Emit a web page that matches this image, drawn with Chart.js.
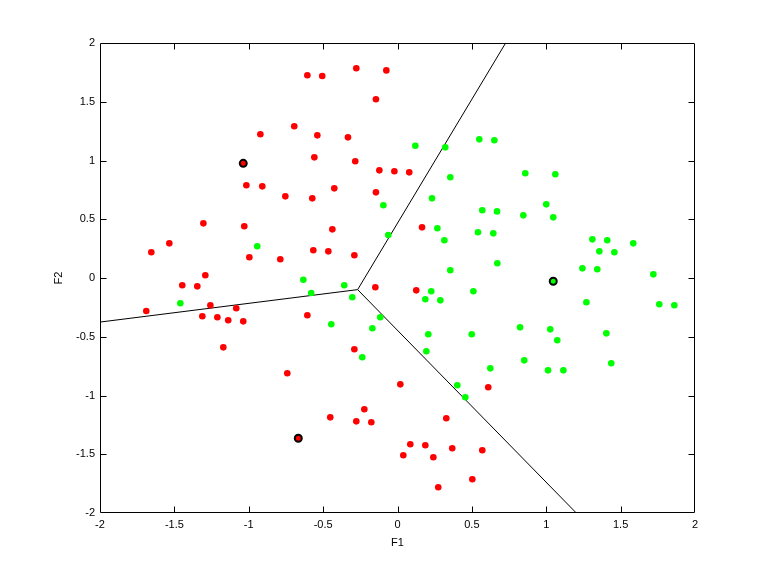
<!DOCTYPE html>
<html>
<head>
<meta charset="utf-8">
<script src="https://cdn.jsdelivr.net/npm/chart.js@4/dist/chart.umd.min.js"></script>
<style>
  html, body { margin: 0; padding: 0; background: #fff; }
  #wrap { width: 768px; height: 576px; }
</style>
</head>
<body>
<div id="wrap"><canvas id="chart" width="768" height="576"></canvas></div>
<script>
// Class 1 (red) points, F1 / F2
const redX = [-0.694, -0.922, -1.016, -0.909, -0.754, -1.305, -1.030, -1.534, -1.655, -0.996,
  -0.788, -1.292, -0.606, -0.506, -0.277, -0.075, -0.145, -0.539, -0.333, -0.559,
  -0.284, -0.122, -0.021, 0.079, -0.425, -0.573, -0.145, -0.438, 0.165, -0.566,
  -0.465, -0.290, -1.447, -1.346, -1.689, -1.258, -1.084, -1.312, -1.211, -1.138,
  -1.037, -1.171, -0.741, -0.149, 0.126, -0.606, -0.290, 0.019, 0.610, -0.452,
  -0.223, -0.277, -0.176, 0.328, 0.086, 0.187, 0.368, 0.570, 0.039, 0.241,
  0.503, 0.274];
const redY = [1.291, 1.223, 0.789, 0.780, 0.695, 0.465, 0.440, 0.295, 0.219, 0.176,
  0.159, 0.023, 1.725, 1.719, 1.785, 1.767, 1.521, 1.214, 1.197, 1.027,
  0.993, 0.916, 0.908, 0.899, 0.763, 0.678, 0.729, 0.414, 0.431, 0.236,
  0.227, 0.193, -0.062, -0.071, -0.281, -0.232, -0.258, -0.326, -0.334, -0.360,
  -0.369, -0.590, -0.811, -0.079, -0.105, -0.317, -0.607, -0.905, -0.930, -1.186,
  -1.117, -1.220, -1.228, -1.194, -1.415, -1.424, -1.449, -1.466, -1.509, -1.526,
  -1.713, -1.781];

// Class 2 (green) points
const greenX = [-0.943, 0.120, 0.321, 0.550, 0.651, 0.355, 0.232, -0.095, 0.570, 0.669,
  0.268, 0.315, 0.541, 0.644, -0.062, 0.671, 0.355, -0.633, 0.859, 1.061,
  1.000, 0.846, 1.047, 1.310, 1.410, 1.585, 1.357, 1.458, 1.243, 1.343,
  1.720, 1.270, 1.760, 1.861, 0.824, 1.027, 1.074, 1.404, 0.852, 1.437,
  1.012, 1.115, -1.460, -0.358, -0.580, -0.304, 0.227, 0.510, 0.187, 0.288,
  -0.445, -0.116, -0.169, 0.207, 0.499, 0.194, -0.237, 0.624, 0.402, 0.456];
const greenY = [0.270, 1.126, 1.112, 1.180, 1.172, 0.857, 0.678, 0.619, 0.576, 0.567,
  0.423, 0.321, 0.389, 0.380, 0.366, 0.125, 0.066, -0.015, 0.891, 0.883,
  0.627, 0.533, 0.516, 0.329, 0.321, 0.295, 0.227, 0.219, 0.082, 0.074,
  0.031, -0.207, -0.224, -0.232, -0.420, -0.437, -0.530, -0.471, -0.701, -0.726,
  -0.786, -0.786, -0.215, -0.062, -0.128, -0.164, -0.113, -0.113, -0.181, -0.190,
  -0.394, -0.334, -0.428, -0.479, -0.479, -0.624, -0.675, -0.769, -0.913, -1.015];

// cluster centres
const redCenterX = [-1.037, -0.667];
const redCenterY = [0.976, -1.364];
const greenCenterX = [1.047];
const greenCenterY = [-0.028];

// Voronoi boundaries: shared vertex, then end points on the axes box
const vertex = [-0.268, -0.099];
const edgeX = [0.727, -2.0, 1.202];
const edgeY = [2.0, -0.375, -2.0];

const tickValues = [-2, -1.5, -1, -0.5, 0, 0.5, 1, 1.5, 2];

const toPoints = (xs, ys) => xs.map((x, i) => ({ x: x, y: ys[i] }));

const edgeSets = edgeX.map((x, i) => ({
  type: 'line',
  data: [{ x: vertex[0], y: vertex[1] }, { x: x, y: edgeY[i] }],
  borderColor: '#000',
  borderWidth: 1,
  pointRadius: 0,
  fill: false,
  order: 10
}));

// MATLAB-style box with inward ticks on all four sides
const boxPlugin = {
  id: 'box',
  afterDraw(chart) {
    const { ctx, chartArea: a, scales } = chart;
    const L = Math.round(a.left) + 0.5, R = Math.round(a.right) - 0.5;
    const T = Math.round(a.top) + 0.5, B = Math.round(a.bottom) - 0.5;
    const len = 6;
    ctx.save();
    ctx.strokeStyle = '#000';
    ctx.lineWidth = 1;
    ctx.beginPath();
    ctx.rect(L, T, R - L, B - T);
    tickValues.slice(1, -1).forEach(v => {
      const px = Math.round(scales.x.getPixelForValue(v)) + 0.5;
      ctx.moveTo(px, B); ctx.lineTo(px, B - len);
      ctx.moveTo(px, T); ctx.lineTo(px, T + len);
      const py = Math.round(scales.y.getPixelForValue(v)) + 0.5;
      ctx.moveTo(L, py); ctx.lineTo(L + len, py);
      ctx.moveTo(R, py); ctx.lineTo(R - len, py);
    });
    ctx.stroke();
    ctx.restore();
  }
};

const font = { family: '"Liberation Sans", Arial, Helvetica, sans-serif', size: 11 };
const plainLabel = v => String(v);

new Chart(document.getElementById('chart'), {
  type: 'scatter',
  data: {
    datasets: [
      {
        data: toPoints(redCenterX, redCenterY),
        backgroundColor: '#ff0000', borderColor: '#000', borderWidth: 2,
        pointRadius: 3.5, order: 0
      },
      {
        data: toPoints(greenCenterX, greenCenterY),
        backgroundColor: '#00ff00', borderColor: '#000', borderWidth: 2,
        pointRadius: 3.5, order: 0
      },
      {
        data: toPoints(redX, redY),
        backgroundColor: '#ff0000', borderWidth: 0, pointRadius: 3.3, order: 1
      },
      {
        data: toPoints(greenX, greenY),
        backgroundColor: '#00ff00', borderWidth: 0, pointRadius: 3.3, order: 1
      },
      ...edgeSets
    ]
  },
  options: {
    responsive: false,
    animation: false,
    events: [],
    layout: { padding: { left: 0, top: 43, right: 73, bottom: 0 } },
    plugins: { legend: { display: false }, tooltip: { enabled: false } },
    scales: {
      x: {
        type: 'linear', min: -2, max: 2,
        afterFit: s => { s.height = 63; },
        afterBuildTicks: s => { s.ticks = tickValues.map(v => ({ value: v })); },
        grid: { display: false, drawTicks: false },
        border: { display: false },
        ticks: { color: '#000', font: font, padding: 5, maxRotation: 0, autoSkip: false, callback: plainLabel },
        title: { display: true, text: 'F1', color: '#000', font: font, padding: { top: 0, bottom: 26 } }
      },
      y: {
        type: 'linear', min: -2, max: 2,
        afterFit: s => { s.width = 100; },
        afterBuildTicks: s => { s.ticks = tickValues.map(v => ({ value: v })); },
        grid: { display: false, drawTicks: false },
        border: { display: false },
        ticks: { color: '#000', font: font, padding: 5, autoSkip: false, callback: plainLabel },
        title: { display: true, text: 'F2', color: '#000', font: font, padding: { top: 52, bottom: 0 } }
      }
    }
  },
  plugins: [boxPlugin]
});
</script>
</body>
</html>
